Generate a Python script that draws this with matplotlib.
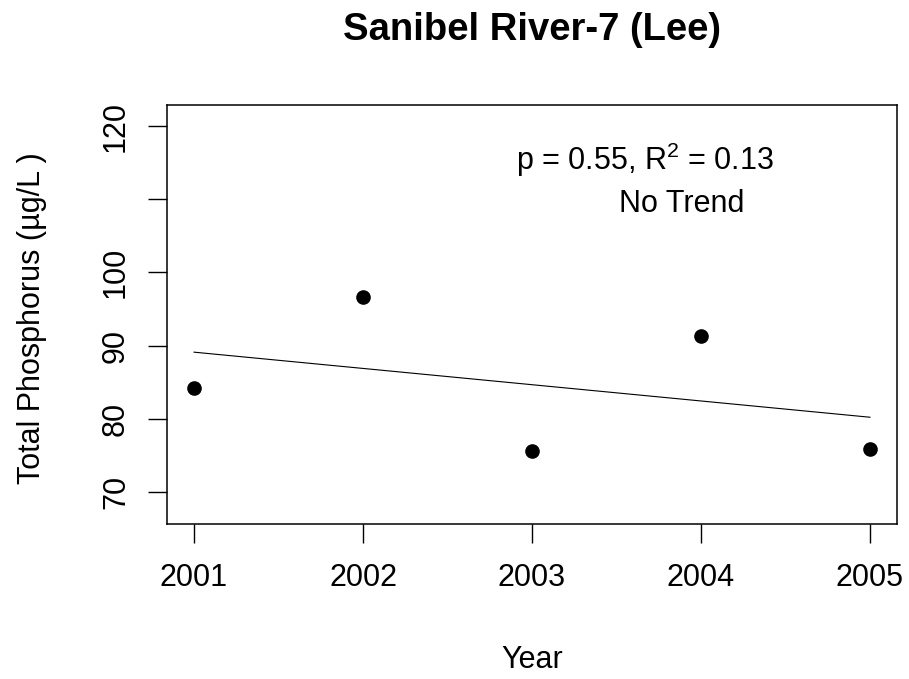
import matplotlib.pyplot as plt

# values
years = [2001, 2002, 2003, 2004, 2005]
total_phosphorus = [84.2, 96.6, 75.6, 91.3, 75.9]
trend_years = [2001, 2005]
trend_values = [89.1, 80.2]
y_ticks = [70, 80, 90, 100, 110, 120]
y_tick_labels = ['70', '80', '90', '100', '', '120']

plt.rcParams['font.family'] = ['Liberation Sans', 'DejaVu Sans']
plt.rcParams['mathtext.fontset'] = 'custom'
plt.rcParams['mathtext.rm'] = 'Liberation Sans'
plt.rcParams['mathtext.it'] = 'Liberation Sans'

W, H = 909, 679
fig = plt.figure(figsize=(W / 100, H / 100), dpi=100)
ax = fig.add_axes([167 / W, 1 - 524 / H, (897 - 167) / W, (524 - 105) / H])

ax.plot(trend_years, trend_values, color='black', linewidth=0.8)
ax.plot(years, total_phosphorus, 'o', color='black', markersize=9.5)

ax.set_xlim(2000.84, 2005.16)
ax.set_ylim(65.6, 122.9)
ax.set_xticks(years)
ax.set_xticklabels([str(y) for y in years])
ax.set_yticks(y_ticks)
ax.set_yticklabels(y_tick_labels, rotation=90, va='center')

ax.tick_params(direction='out', length=14, width=1, labelsize=22, colors='black')
ax.tick_params(axis='x', pad=14)
ax.tick_params(axis='y', pad=12)
for s in ax.spines.values():
    s.set_linewidth(1.1)

ax.text(2003.67, 115.4, r'p = 0.55, R$^2$ = 0.13', fontsize=22,
        ha='center', va='center')
ax.text(2003.886, 109.4, 'No Trend', fontsize=22, ha='center', va='center')

fig.text(532 / W, 1 - 30 / H, 'Sanibel River-7 (Lee)', fontsize=27.5,
         fontweight='bold', ha='center', va='center')
fig.text(532 / W, 1 - 660 / H, 'Year', fontsize=22, ha='center', va='center')
fig.text(32 / W, 1 - 318 / H, 'Total Phosphorus (\u00b5g/L )', fontsize=22,
         rotation=90, ha='center', va='center')

fig.savefig('out.png', dpi=100)
